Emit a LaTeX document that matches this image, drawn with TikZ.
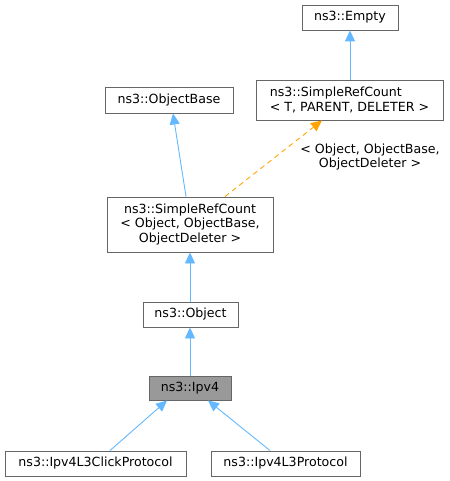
\documentclass[tikz,border=0pt]{standalone}
\usepackage{fontspec}
\setmainfont{DejaVu Sans}
\usetikzlibrary{arrows.meta,calc}
\begin{document}
\begin{tikzpicture}[x=1pt,y=-1pt,
  cls/.style={draw=black!60,fill=white,line width=0.9pt,inner sep=0pt,
    font=\fontsize{12.6}{14.5}\selectfont,align=center},
  cur/.style={cls,fill=black!40},
  inh/.style={draw=inhblue,line width=0.9pt,-{Triangle[length=11pt,width=10pt]}},
  tpl/.style={draw=tplorange,line width=0.9pt,dashed,dash pattern=on 5pt off 4pt,-{Triangle[length=11pt,width=10pt]}},
  lbl/.style={font=\fontsize{12.6}{14.5}\selectfont,align=center,inner sep=0pt}]
\definecolor{inhblue}{HTML}{63B8FF}
\definecolor{tplorange}{HTML}{FFA500}
\useasboundingbox (0,0) rectangle (449,481);
\node[cls,minimum width=96pt,minimum height=25pt] (empty) at (350,17.5) {ns3::Empty};
\node[cls,align=left,minimum width=187pt,minimum height=40pt] (srct) at (349.5,100) {ns3::SimpleRefCount\\< T, PARENT, DELETER >};
\node[cls,minimum width=128pt,minimum height=26pt] (obase) at (169,100) {ns3::ObjectBase};
\node[cls,minimum width=166pt,minimum height=55pt] (srco) at (190,224.5) {ns3::SimpleRefCount\\< Object, ObjectBase,\\ObjectDeleter >};
\node[cls,minimum width=95pt,minimum height=25pt] (object) at (190.5,314.5) {ns3::Object};
\node[cur,minimum width=82pt,minimum height=24pt] (ipv4) at (190,388) {ns3::Ipv4};
\node[cls,minimum width=181pt,minimum height=25pt] (click) at (95.5,463.5) {ns3::Ipv4L3ClickProtocol};
\node[cls,minimum width=149pt,minimum height=25pt] (l3) at (285.5,463.5) {ns3::Ipv4L3Protocol};
\node[lbl] (tlabel) at (370,157) {< Object, ObjectBase,\\ObjectDeleter >};
\draw[inh] (srct.north -| empty.south) -- (empty.south);
\draw[inh] ([xshift=-4pt]srco.north) -- ([xshift=4pt]obase.south);
\draw[tpl] ([xshift=35pt]srco.north) -- ([xshift=-27.5pt]srct.south);
\draw[inh] (object.north -| srco.south) -- (srco.south);
\draw[inh] (ipv4.north) -- (object.south -| ipv4.north);
\draw[inh] ([xshift=14.5pt]click.north) -- ([xshift=-23pt]ipv4.south);
\draw[inh] ([xshift=-15.5pt]l3.north) -- ([xshift=18pt]ipv4.south);
\end{tikzpicture}
\end{document}
